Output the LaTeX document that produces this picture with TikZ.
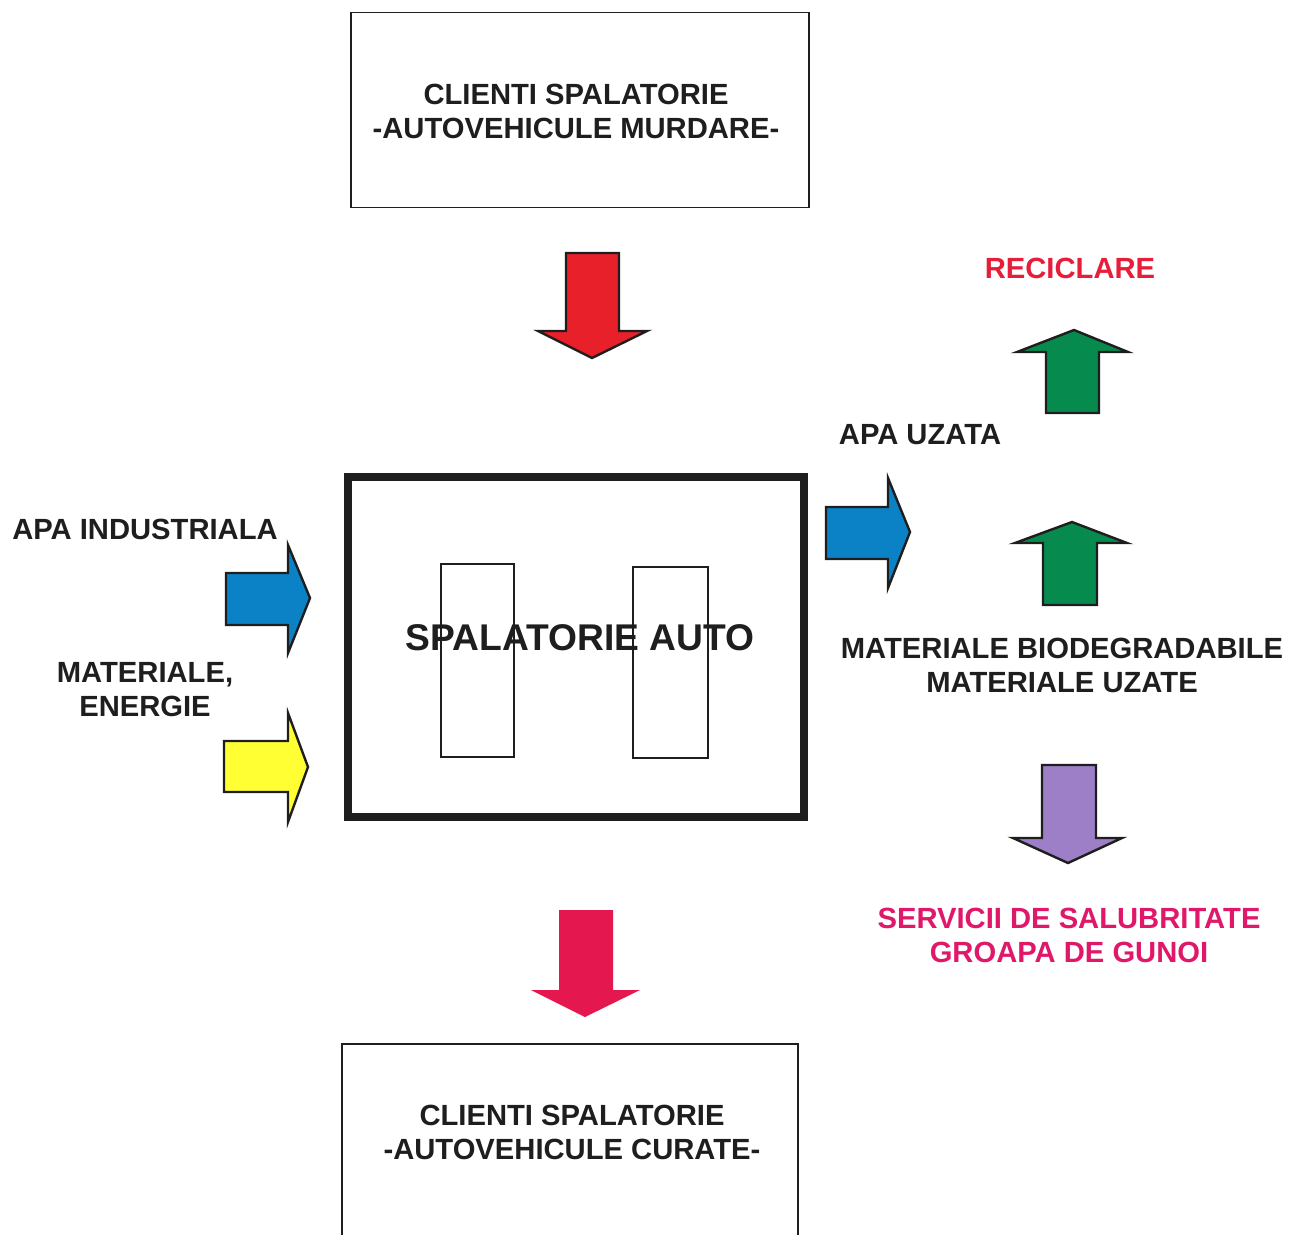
\documentclass[tikz,border=0pt]{standalone}
\usepackage{fontspec}
\setmainfont{Liberation Sans}
\definecolor{ink}{HTML}{1E1E1E}
\definecolor{flowred}{HTML}{E8202A}
\definecolor{flowgreen}{HTML}{078A4E}
\definecolor{flowblue}{HTML}{0B82C6}
\definecolor{flowyellow}{HTML}{FFFF33}
\definecolor{flowpurple}{HTML}{9C7FC6}
\definecolor{flowcrimson}{HTML}{E5174F}
\definecolor{txtred}{HTML}{E61E3A}
\definecolor{txtpink}{HTML}{E0186A}
\tikzset{
	lbl/.style={font=\bfseries\fontsize{14.6}{17}\selectfont, text=ink, align=center, inner sep=0pt},
	thinbox/.style={draw=ink, line width=0.7pt},
	blockarrow/.style={draw=ink, line width=1.2pt, line join=miter},
}
\begin{document}
\begin{tikzpicture}[x=0.5pt, y=-0.5pt]
	\useasboundingbox (0,0) rectangle (1304,1235);
	
	% clienti / intrare
	\node[thinbox, minimum width=229pt, minimum height=97.5pt] (dirty) at (580,110) {};
	\node[lbl] (dirtylbl) at (576,111) {CLIENTI SPALATORIE\\-AUTOVEHICULE MURDARE-};
	\draw[blockarrow, fill=flowred] (566,253) -- (619,253) -- (619,331) -- (647,331)
		-- (592,358) -- (538,331) -- (566,331) -- cycle;
	
	% spalatoria
	\node[draw=ink, line width=4pt, minimum width=228pt, minimum height=170pt] (wash) at (576,647) {};
	\node[thinbox, minimum width=36.5pt, minimum height=96.5pt] (bayA) at (477.5,660.5) {};
	\node[thinbox, minimum width=37.5pt, minimum height=95.5pt] (bayB) at (670.5,662.5) {};
	\node[font=\bfseries\fontsize{18.6}{22}\selectfont, text=ink, inner sep=0pt] (washlbl) at (580,638) {SPALATORIE AUTO};
	
	% intrari stanga
	\node[lbl] (apain) at (145,529) {APA INDUSTRIALA};
	\draw[blockarrow, fill=flowblue] (226,573) -- (288,573) -- (288,545) -- (310,598)
		-- (288,653) -- (288,625) -- (226,625) -- cycle;
	\node[lbl] (matin) at (145,690) {MATERIALE,\\ENERGIE};
	\draw[blockarrow, fill=flowyellow] (224,741) -- (288,741) -- (288,713) -- (308,767)
		-- (288,822) -- (288,792) -- (224,792) -- cycle;
	
	% iesiri dreapta
	\node[lbl, text=txtred] (recycle) at (1070,268) {RECICLARE};
	\draw[blockarrow, fill=flowgreen] (1046,413) -- (1046,352) -- (1017,352) -- (1074,330)
		-- (1128,352) -- (1099,352) -- (1099,413) -- cycle;
	\node[lbl] (apaout) at (920,435) {APA UZATA};
	\draw[blockarrow, fill=flowblue] (826,507) -- (888,507) -- (888,478) -- (910,532)
		-- (888,588) -- (888,559) -- (826,559) -- cycle;
	\draw[blockarrow, fill=flowgreen] (1043,605) -- (1043,543) -- (1015,543) -- (1072,522)
		-- (1127,543) -- (1097,543) -- (1097,605) -- cycle;
	\node[lbl] (matout) at (1062,665) {MATERIALE BIODEGRADABILE\\MATERIALE UZATE};
	\draw[blockarrow, fill=flowpurple] (1042,765) -- (1096,765) -- (1096,838) -- (1122,838)
		-- (1068,863) -- (1013,838) -- (1042,838) -- cycle;
	\node[lbl, text=txtpink] (waste) at (1069,935) {SERVICII DE SALUBRITATE\\GROAPA DE GUNOI};
	
	% clienti / iesire
	\fill[flowcrimson] (559,910) -- (613,910) -- (613,990) -- (640,990)
		-- (585,1017) -- (531,990) -- (559,990) -- cycle;
	\draw[thinbox] (342,1235) -- (342,1044) -- (798,1044) -- (798,1235);
	\node[lbl] (cleanlbl) at (572,1132) {CLIENTI SPALATORIE\\-AUTOVEHICULE CURATE-};
\end{tikzpicture}
\end{document}
